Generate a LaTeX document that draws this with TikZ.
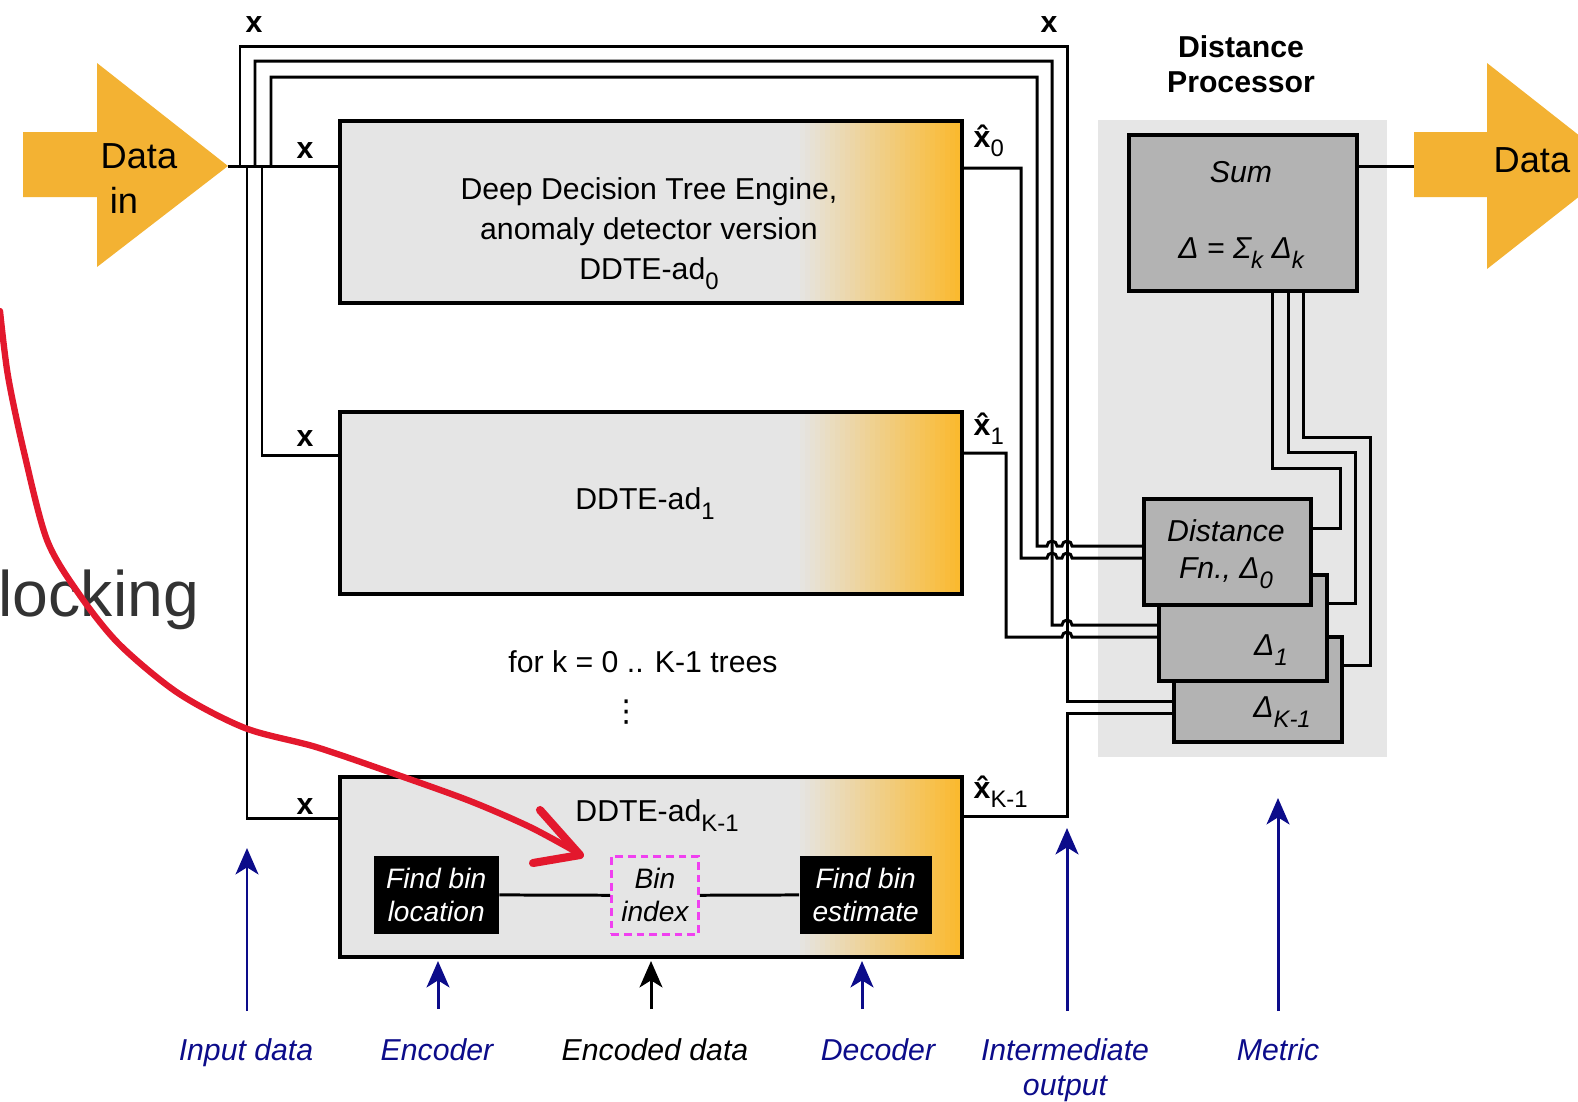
\documentclass[tikz,border=0pt]{standalone}
\usepackage{fontspec}
\setmainfont{Liberation Sans}
\newfontfamily\symfont{DejaVu Sans}
\usepackage{tikz}
\usetikzlibrary{arrows.meta}
\usetikzlibrary{positioning}

\definecolor{ddgray}{HTML}{E5E5E5}
\definecolor{ddorange}{HTML}{FBB829}
\definecolor{arrorange}{HTML}{F3B233}
\definecolor{dpgray}{HTML}{E6E6E6}
\definecolor{fngray}{HTML}{B3B3B3}
\definecolor{lblnavy}{HTML}{0C0C8A}
\definecolor{binpink}{HTML}{F040F0}
\definecolor{markred}{HTML}{E3182D}

\newcommand{\lsub}[1]{\raisebox{-0.33em}{\fontsize{6.8}{8}\selectfont\mdseries #1}}
\newcommand{\xhat}{\textbf{\ooalign{x\cr\hidewidth ˆ\hidewidth\cr}}}

\tikzset{
  wire/.style={line width=0.85pt},
  ddte/.style={draw,line width=1pt,fill=ddgray,anchor=north west,inner sep=0pt,
    path picture={\foreach \i in {0,...,33}{
      \pgfmathsetmacro\p{3*\i}
      \fill[ddorange!\p!ddgray] ([xshift={-16.7mm+\i*0.5mm}]path picture bounding box.south east)
        rectangle ([xshift={-16.7mm+\i*0.5mm+0.6mm}]path picture bounding box.north east);}}},
  fnbox/.style={draw,line width=1pt,fill=fngray,anchor=north west,inner sep=0pt},
  binbox/.style={anchor=north west,inner sep=0pt,minimum height=7.8mm,align=center,
    font=\itshape\fontsize{8}{9.4}\selectfont},
  xlbl/.style={font=\bfseries\fontsize{8.6}{10}\selectfont,inner sep=0pt},
  bottomlbl/.style={font=\itshape\fontsize{8.6}{10}\selectfont,text=lblnavy,inner sep=0pt},
  navyarr/.style={draw=lblnavy,line width=0.85pt,-{Stealth[length=7.5pt,width=6.5pt,inset=2pt]}},
  marker/.style={draw=markred,line width=1.8pt,line cap=round,line join=round},
}

\begin{document}
\begin{tikzpicture}[x=0.1mm,y=-0.1mm,font=\fontsize{8.6}{11.4}\selectfont]
    \useasboundingbox (0,0) rectangle (1578,1101);

    \node[anchor=north west,fill=dpgray,minimum width=28.9mm,minimum height=63.7mm,inner sep=0pt] (dp) at (1097,119) {};
    \node[anchor=north,align=center,inner sep=0pt,font=\bfseries\fontsize{8.6}{10}\selectfont] (dptitle) at (1241,35) {Distance\\Processor};

    % data in and out
    \fill[arrorange] (23,132) -- (97,132) -- (97,63) -- (228,166) -- (97,267) -- (97,197) -- (23,197) -- cycle;
    \coordinate (din) at (228,166);
    \node[anchor=north west,align=left,inner sep=0pt,font=\fontsize{10.3}{12.8}\selectfont] (datain) at (100,143) {Data\\\hspace*{2.6pt}in};
    \fill[arrorange] (1414,132) -- (1487,132) -- (1487,63) -- (1618,166) -- (1487,269) -- (1487,197) -- (1414,197) -- cycle;
    \coordinate (dout) at (1414,166);
    \node[anchor=base west,inner sep=0pt,font=\fontsize{10.3}{12.8}\selectfont] (dataout) at (1493,172) {Data};

    % engines
    \node[ddte,minimum width=62.2mm,minimum height=18.2mm] (ad0) at (338,119) {};
    \node[anchor=north,align=center,inner sep=0pt] (ad0txt) at (649,177) {Deep Decision Tree Engine,\\anomaly detector version\\DDTE-ad\lsub{0}};
    \node[ddte,minimum width=62.2mm,minimum height=18.2mm] (ad1) at (338,410) {};
    \node[inner sep=0pt] (ad1txt) at (645,504) {DDTE-ad\lsub{1}};
    \node (fork) at (643,662) {for k = 0 .. K-1 trees};
    \node[inner sep=0pt,font=\symfont\fontsize{8.6}{10}\selectfont] (dots) at (627,712) {⋮};
    \node[ddte,minimum width=62.2mm,minimum height=18mm] (adk) at (338,775) {};
    \node[inner sep=0pt] (adktxt) at (657,816) {DDTE-ad\lsub{K-1}};

    \node[binbox,fill=black,text=white,minimum width=12.5mm] (findloc) at (373,855) {Find bin\\location};
    \node[binbox,draw=binpink,line width=0.8pt,dash pattern=on 2.2pt off 1.4pt,minimum width=8.7mm] (binidx) at (610,855) {Bin\\index};
    \node[binbox,fill=black,text=white,minimum width=13.2mm] (findest) at (799,855) {Find bin\\estimate};
    \draw[wire] (findloc) -- (binidx);
    \draw[wire] (binidx) -- (findest);

    % distance processor
    \node[fnbox,minimum width=22.8mm,minimum height=15.6mm] (sum) at (1127,133) {};
    \node[align=center,inner sep=0pt] (sumtxt) at (1241,215) {\textit{Sum}\\[10pt]\textit{Δ = Σ\lsub{k} Δ\lsub{k}}};
    \node[fnbox,minimum width=16.8mm,minimum height=10.5mm] (dist2) at (1172,635) {};
    \node[fnbox,minimum width=16.8mm,minimum height=10.6mm] (dist1) at (1157,573) {};
    \node[fnbox,minimum width=16.7mm,minimum height=10.6mm] (dist0) at (1142,497) {};
    \node[align=center,inner sep=0pt,font=\itshape\fontsize{8.6}{10.5}\selectfont] (dist0txt) at (1226,554) {Distance\\Fn., Δ\lsub{0}};
    \node[inner sep=0pt] (d1txt) at (1271,650) {\textit{Δ\lsub{1}}};
    \node[inner sep=0pt] (dktxt) at (1282,712) {\textit{Δ\lsub{K-1}}};

    % x to every engine and to the distance functions
    \draw[wire] (din) -- (din -| ad0.west);
    \draw[wire] (240,166) -- (240,46) -- (1067,46) -- (1067,701) -- (dist2.west |- 0,701);
    \draw[wire] (255,166) -- (255,61) -- (1052,61) -- (1052,625) -- (1062,625) arc (180:360:5) -- (dist1.west |- 0,625);
    \draw[wire] (271,166) -- (271,77) -- (1037,77) -- (1037,546) -- (1047,546) arc (180:360:5) -- (1062,546) arc (180:360:5) -- (dist0.west |- 0,546);
    \draw[wire] (262,166) -- (262,455) -- (ad1.west |- 0,455);
    \draw[wire] (247,166) -- (247,818) -- (adk.west |- 0,818);

    \draw[wire] (ad0.east |- 0,168) -- (1021,168) -- (1021,558) -- (1047,558) arc (180:360:5) -- (1062,558) arc (180:360:5) -- (dist0.west |- 0,558);
    \draw[wire] (ad1.east |- 0,453) -- (1006,453) -- (1006,637) -- (1062,637) arc (180:360:5) -- (dist1.west |- 0,637);
    \draw[wire] (adk.east |- 0,816) -- (1067,816) -- (1067,713) -- (dist2.west |- 0,713);

    \draw[wire] (sum.south -| 1272,0) -- (1272,468) -- (1340,468) -- (1340,528) -- (dist0.east |- 0,528);
    \draw[wire] (sum.south -| 1288,0) -- (1288,452) -- (1355,452) -- (1355,603) -- (dist1.east |- 0,603);
    \draw[wire] (sum.south -| 1303,0) -- (1303,437) -- (1370,437) -- (1370,665) -- (dist2.east |- 0,665);
    \draw[wire] (sum.east |- dout) -- (dout);

    \node[xlbl] (xtop0) at (254,25) {x};
    \node[xlbl] (xtop1) at (1049,25) {x};
    \node[xlbl] (xin0) at (305,151) {x};
    \node[xlbl] (xin1) at (305,439) {x};
    \node[xlbl] (xink) at (305,806) {x};
    \node[anchor=base west,inner sep=0pt] (xh0) at (973,147) {\xhat\lsub{0}};
    \node[anchor=base west,inner sep=0pt] (xh1) at (973,435) {\xhat\lsub{1}};
    \node[anchor=base west,inner sep=0pt] (xhk) at (973,798) {\xhat\lsub{K-1}};

    % labels underneath
    \node[bottomlbl,anchor=base] (inlbl) at (246,1060) {Input data};
    \node[bottomlbl,anchor=base] (enclbl) at (437,1060) {Encoder};
    \node[bottomlbl,anchor=base,text=black] (edlbl) at (655,1060) {Encoded data};
    \node[bottomlbl,anchor=base] (declbl) at (878,1060) {Decoder};
    \node[bottomlbl,anchor=north,align=center] (intlbl) at (1065,1038) {Intermediate\\output};
    \node[bottomlbl,anchor=base] (metlbl) at (1278,1060) {Metric};
    \coordinate (inbot) at (247,1011);
    \coordinate (encbot) at (438,1009);
    \coordinate (edbot) at (651,1009);
    \coordinate (decbot) at (862,1009);
    \coordinate (intbot) at (1067,1011);
    \coordinate (metbot) at (1278,1011);
    \draw[navyarr] (inbot) -- (247,848);
    \draw[navyarr] (encbot) -- (438,961);
    \draw[navyarr,draw=black] (edbot) -- (651,961);
    \draw[navyarr] (decbot) -- (862,961);
    \draw[navyarr] (intbot) -- (1067,828);
    \draw[navyarr] (metbot) -- (1278,798);

    \node[anchor=base west,inner sep=0pt,text=black!80,font=\fontsize{18.3}{20}\selectfont] (lockword) at (-2,616) {locking};
    %\node[anchor=north west,fill=white,minimum width=10mm,minimum height=10mm] at (0,0) {};
    \draw[marker] plot[smooth] coordinates {(0,311) (8,376) (24,452) (47,540) (79,594) (119,644) (178,693) (245,728) (316,747) (395,774) (470,801) (530,827) (578,853)};
    \draw[marker,line width=2.3pt] (540,810) -- (580,855) -- (533,863);
\end{tikzpicture}
\end{document}
